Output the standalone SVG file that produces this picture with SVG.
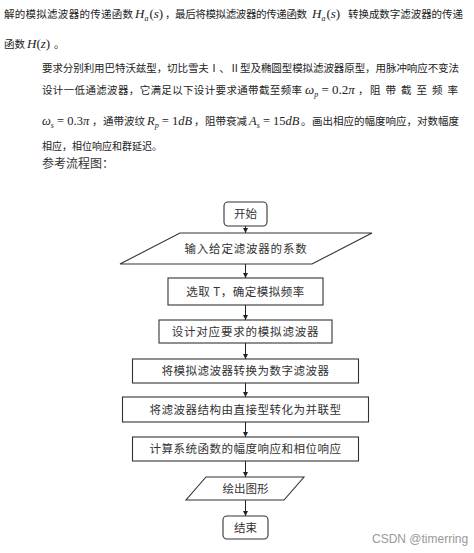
<svg xmlns="http://www.w3.org/2000/svg" width="474" height="553" viewBox="0 0 474 553">
<style>
.zh{font-family:"Noto Sans CJK SC","Noto Sans CJK JP",sans-serif;font-size:10.5px;fill:#222;}
.m{font-family:"Liberation Serif","DejaVu Serif",serif;font-size:13px;fill:#222;}
.i{font-style:italic;}
.sub{font-size:8px;font-style:italic;}
.node{fill:#fff;stroke:#333;stroke-width:1.1;}
.lbl{font-family:"Noto Sans CJK SC","Noto Sans CJK JP",sans-serif;font-size:11.5px;fill:#333;text-anchor:middle;}
.conn{stroke:#222;stroke-width:1;fill:none;marker-end:url(#ah);}
</style>
<defs>
<marker id="ah" viewBox="0 0 10 10" refX="10" refY="5" markerWidth="5" markerHeight="5" markerUnits="userSpaceOnUse" orient="auto">
<path d="M0,0 L10,5 L0,10 z" fill="#222"/>
</marker>
</defs>
<rect width="474" height="553" fill="#fff"/>

<g id="body-text">
<text class="zh" x="4" y="18" textLength="129" lengthAdjust="spacing">解的模拟滤波器的传递函数</text>
<text class="m" x="135" y="18"><tspan class="i">H</tspan><tspan class="sub" dy="3">a</tspan><tspan dy="-3" dx="1">(</tspan><tspan class="i">s</tspan>)</text>
<text class="zh" x="165" y="18">，</text>
<text class="zh" x="175" y="18" textLength="132" lengthAdjust="spacing">最后将模拟滤波器的传递函数</text>
<text class="m" x="312" y="18"><tspan class="i">H</tspan><tspan class="sub" dy="3">a</tspan><tspan dy="-3" dx="1">(</tspan><tspan class="i">s</tspan>)</text>
<text class="zh" x="348" y="18" textLength="115" lengthAdjust="spacing">转换成数字滤波器的传递</text>

<text class="zh" x="4" y="48">函数</text>
<text class="m" x="27" y="48"><tspan class="i">H</tspan>(<tspan class="i">z</tspan>)</text>
<text class="zh" x="54" y="48">。</text>

<text class="zh" x="42" y="72" textLength="417" lengthAdjust="spacing">要求分别利用巴特沃兹型，切比雪夫Ⅰ、Ⅱ型及椭圆型模拟滤波器原型，用脉冲响应不变法</text>

<text class="zh" x="42" y="94" textLength="260" lengthAdjust="spacing">设计一低通滤波器，它满足以下设计要求通带截至频率</text>
<text class="m" x="305" y="94"><tspan class="i">ω</tspan><tspan class="sub" dy="3">p</tspan><tspan dy="-3"> = 0.2</tspan><tspan class="i">π</tspan></text>
<text class="zh" x="358" y="94">，</text>
<text class="zh" x="370" y="94" textLength="88" lengthAdjust="spacing">阻带截至频率</text>

<g style="font-size:12.5px">
<text class="m" x="42" y="125" style="font-size:12.5px"><tspan class="i">ω</tspan><tspan class="sub" dy="3">s</tspan><tspan dy="-3"> = 0.3</tspan><tspan class="i">π</tspan></text>
<text class="zh" x="92" y="125">，</text>
<text class="zh" x="103" y="125">通带波纹</text>
<text class="m" x="147" y="125" style="font-size:12.5px"><tspan class="i">R</tspan><tspan class="sub" dy="3">p</tspan><tspan dy="-3"> = 1</tspan><tspan class="i">dB</tspan></text>
<text class="zh" x="194" y="125">，</text>
<text class="zh" x="205" y="125">阻带衰减</text>
<text class="m" x="249" y="125" style="font-size:12.5px"><tspan class="i">A</tspan><tspan class="sub" dy="3">s</tspan><tspan dy="-3"> = 15</tspan><tspan class="i">dB</tspan></text>
<text class="zh" x="301" y="125">。</text>
<text class="zh" x="312" y="125" textLength="147" lengthAdjust="spacing">画出相应的幅度响应，对数幅度</text>
</g>

<text class="zh" x="42" y="150" style="font-size:10px">相应，相位响应和群延迟。</text>
<text class="zh" x="42" y="168" style="font-size:12px;fill:#333">参考流程图：</text>
</g>

<g id="connectors">
<line class="conn" x1="245.5" y1="226" x2="245.5" y2="233"/>
<line class="conn" x1="245.5" y1="264" x2="245.5" y2="278"/>
<line class="conn" x1="245.5" y1="305" x2="245.5" y2="320"/>
<line class="conn" x1="245.5" y1="343" x2="245.5" y2="359"/>
<line class="conn" x1="245.5" y1="383" x2="245.5" y2="397"/>
<line class="conn" x1="245.5" y1="422" x2="245.5" y2="437"/>
<line class="conn" x1="245.5" y1="461" x2="245.5" y2="477"/>
<line class="conn" x1="245.5" y1="500" x2="245.5" y2="516"/>
</g>

<g id="start">
<rect class="node" x="224" y="202" width="43" height="24" rx="4"/>
<text class="lbl" x="245.5" y="218">开始</text>
</g>
<g id="input">
<polygon class="node" points="180,233 372,233 312,264 120,264"/>
<text class="lbl" x="246" y="253" letter-spacing="0.8">输入给定滤波器的系数</text>
</g>
<g id="select-t">
<rect class="node" x="168" y="278" width="155" height="27"/>
<text class="lbl" x="245.5" y="296" letter-spacing="0.5">选取 T，确定模拟频率</text>
</g>
<g id="design-analog">
<rect class="node" x="159" y="320" width="173" height="23"/>
<text class="lbl" x="245.5" y="336" letter-spacing="0.8">设计对应要求的模拟滤波器</text>
</g>
<g id="convert-digital">
<rect class="node" x="132.5" y="359" width="226" height="24"/>
<text class="lbl" x="245.5" y="375" letter-spacing="0.5">将模拟滤波器转换为数字滤波器</text>
</g>
<g id="parallel-form">
<rect class="node" x="122.5" y="397" width="246" height="25"/>
<text class="lbl" x="245.5" y="414" letter-spacing="0.5">将滤波器结构由直接型转化为并联型</text>
</g>
<g id="compute-response">
<rect class="node" x="132.5" y="437" width="226" height="24"/>
<text class="lbl" x="245.5" y="453" letter-spacing="0.5">计算系统函数的幅度响应和相位响应</text>
</g>
<g id="plot">
<polygon class="node" points="206,477 304,477 284,500 186,500"/>
<text class="lbl" x="245.5" y="493">绘出图形</text>
</g>
<g id="end">
<rect class="node" x="223" y="516" width="45" height="23" rx="4"/>
<text class="lbl" x="245.5" y="532">结束</text>
</g>

<text x="372" y="543" style="font-family:'Liberation Sans','DejaVu Sans',sans-serif;font-size:12px;fill:#999">CSDN @timerring</text>
</svg>
